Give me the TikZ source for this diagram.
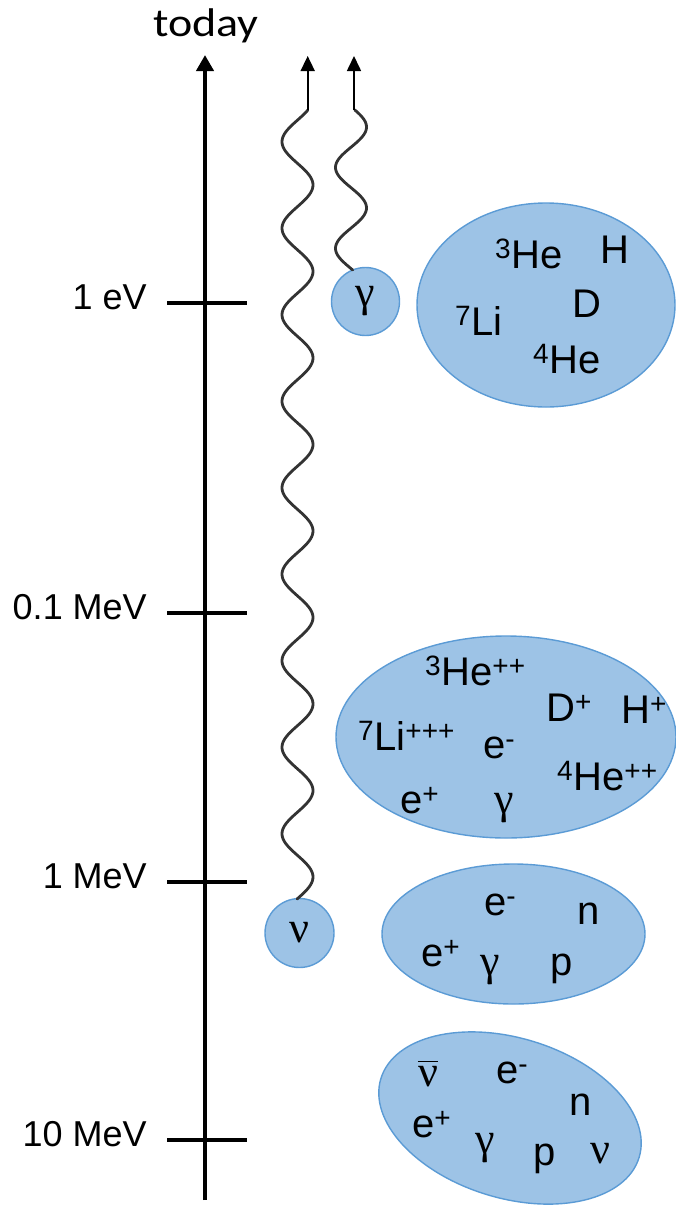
\documentclass[tikz,border=0pt]{standalone}
\usepackage{fontspec}
\usepackage{graphicx}
\setmainfont{Liberation Sans}
\newfontfamily\grkfont{Liberation Serif}
\newfontfamily\todayfont{Carlito}
\usetikzlibrary{arrows.meta,shapes.geometric}
\definecolor{blobfill}{HTML}{9DC3E6}
\definecolor{blobline}{HTML}{5B9BD5}
\definecolor{wavecol}{HTML}{333333}
\newcommand{\grk}[1]{{\grkfont\fontsize{44}{48}\selectfont #1}}
\begin{document}
\begin{tikzpicture}[x=1pt,y=-1pt,
  blob/.style={draw=blobline, fill=blobfill, line width=1.4pt, inner sep=0pt},
  ellblob/.style={blob, ellipse},
  circblob/.style={blob, circle},
  lbl/.style={anchor=base west, inner sep=0pt, font=\fontsize{40}{44}\selectfont},
  glbl/.style={anchor=center, inner sep=0pt},
  ticklbl/.style={anchor=base east, inner sep=0pt, font=\fontsize{36}{40}\selectfont},
  tickline/.style={line width=4pt},
  axisline/.style={line width=4.5pt, -{Triangle[length=16pt,width=17pt]}},
  thinarrow/.style={line width=1.6pt, -{Triangle[length=15pt,width=14pt]}},
  wave/.style={draw=wavecol, line width=2.8pt, line cap=round},
  barline/.style={line width=1.7pt}
]
\useasboundingbox (0,0) rectangle (676,1205);

% title
\node[anchor=base, inner sep=0pt] (today) at (206,36)
  {\todayfont\fontsize{40}{44}\selectfont\scalebox{1.15}[1]{today}};

% main axis
\coordinate (axisBot) at (205,1200);
\coordinate (axisTop) at (205,55);
\draw[axisline] (axisBot) -- (axisTop);

% ticks
\foreach \n/\y/\t in {a/303/1 eV, b/613/0.1 MeV, c/882/1 MeV, d/1140/10 MeV}{
  \coordinate (tick\n W) at (167,\y);
  \coordinate (tick\n E) at (247,\y);
  \draw[tickline] (tick\n W) -- (tick\n E);
  \node[ticklbl] (lab\n) at (147,\y+6) {\t};
}

% ellipses (blobs)
\node[ellblob, minimum width=258pt, minimum height=204pt] (e1) at (546,305) {};
\node[ellblob, minimum width=340pt, minimum height=202pt] (e2) at (506,737) {};
\node[ellblob, minimum width=263pt, minimum height=140pt] (e3) at (513.5,934) {};
\node[ellblob, minimum width=270pt, minimum height=160pt, rotate=-17] (e4) at (510,1118) {};

% circles
\node[circblob, minimum size=68pt] (gam) at (365.5,301.5) {\grk{γ}};
\node[circblob, minimum size=69pt] (nu) at (299.5,933) {\grk{ν}};

% waves and arrows
\coordinate (nuTop) at (307.7,110);
\coordinate (nuTip) at (307.7,56);
\coordinate (gTop) at (354,110);
\coordinate (gTip) at (354,56);
\draw[wave] plot[domain=110:899, samples=400, smooth] ({297.5+15.5*cos((\x-185)*4.16185)}, \x);
\draw[wave] plot[domain=110:270, samples=120, smooth] ({351+15.5*cos((\x-127)*4.45)}, \x);
\draw[thinarrow] (nuTop) -- (nuTip);
\draw[thinarrow] (gTop) -- (gTip);

% ellipse 1 contents
\node[lbl] (a1) at (495,268) {\textsuperscript{3}He};
\node[lbl] (a2) at (600,263) {H};
\node[lbl] (a3) at (572,317) {D};
\node[lbl] (a4) at (455,335) {\textsuperscript{7}Li};
\node[lbl] (a5) at (533,373) {\textsuperscript{4}He};

% ellipse 2 contents
\node[lbl] (b1) at (425,685) {\textsuperscript{3}He\textsuperscript{++}};
\node[lbl] (b2) at (546,721) {D\textsuperscript{+}};
\node[lbl] (b3) at (621,723) {H\textsuperscript{+}};
\node[lbl] (b4) at (358,750) {\textsuperscript{7}Li\textsuperscript{+++}};
\node[lbl] (b5) at (483,758) {e\textsuperscript{-}};
\node[lbl] (b6) at (557,790) {\textsuperscript{4}He\textsuperscript{++}};
\node[lbl] (b7) at (400,813) {e\textsuperscript{+}};
\node[glbl] (b8) at (504,808) {\grk{γ}};

% ellipse 3 contents
\node[lbl] (c1) at (484,915) {e\textsuperscript{-}};
\node[lbl] (c2) at (577,924) {n};
\node[lbl] (c3) at (421,966) {e\textsuperscript{+}};
\node[glbl] (c4) at (490,970) {\grk{γ}};
\node[lbl] (c5) at (550,975) {p};

% ellipse 4 contents
\node[glbl] (d1) at (428,1077) {\grk{ν}};
\draw[barline] ([yshift=5pt]d1.north west) -- ([yshift=5pt]d1.north east);
\node[lbl] (d2) at (496,1083) {e\textsuperscript{-}};
\node[lbl] (d3) at (569,1115) {n};
\node[lbl] (d4) at (412,1137) {e\textsuperscript{+}};
\node[glbl] (d5) at (485,1148) {\grk{γ}};
\node[lbl] (d6) at (533,1165) {p};
\node[glbl] (d7) at (600,1154) {\grk{ν}};
\end{tikzpicture}
\end{document}
